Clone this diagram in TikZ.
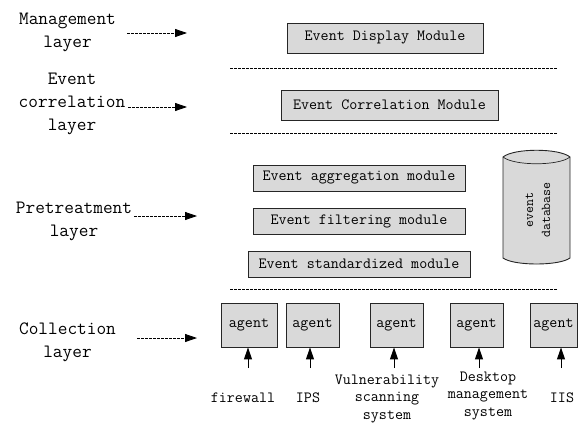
\documentclass[tikz,border=0pt]{standalone}
\usepackage{fontspec}
\usetikzlibrary{arrows.meta}
\definecolor{boxgray}{HTML}{D9D9D9}
\tikzset{
  layerlbl/.style={font=\ttfamily\fontsize{18.8}{23}\selectfont, align=center, inner sep=0pt},
  modbox/.style={draw=black!85, line width=0.9pt, fill=boxgray, inner sep=0pt,
                 font=\ttfamily\fontsize{15.6}{18}\selectfont},
  agentbox/.style={modbox, minimum height=44pt},
  srclbl/.style={font=\ttfamily\fontsize{15.6}{17.5}\selectfont, align=center, inner sep=0pt},
  sep/.style={line width=0.6pt, dash pattern=on 2.5pt off 1.5pt},
  dasharrow/.style={line width=0.8pt, dash pattern=on 2.5pt off 1.5pt,
                    -{Triangle[length=12pt,width=8pt]}},
  uparrow/.style={line width=1pt, -{Triangle[length=12pt,width=8pt]}}
}
\begin{document}
\begin{tikzpicture}[x=1pt,y=-1pt]
\useasboundingbox (0,0) rectangle (580,423);

% layer labels
\node[layerlbl] (lmgmt) at (67.5,32) {Management\\layer};
\node[layerlbl] (lcorr) at (72,104) {Event\\correlation\\layer};
\node[layerlbl] (lpret) at (74,221) {Pretreatment\\layer};
\node[layerlbl] (lcoll) at (67.5,342.5) {Collection\\layer};

% arrow endpoints
\coordinate (m1) at (127,33);  \coordinate (m2) at (187,33);
\coordinate (c1) at (128,107); \coordinate (c2) at (187,107);
\coordinate (p1) at (134,216); \coordinate (p2) at (197,216);
\coordinate (k1) at (137,338); \coordinate (k2) at (197,338);
\draw[dasharrow] (m1) -- (m2);
\draw[dasharrow] (c1) -- (c2);
\draw[dasharrow] (p1) -- (p2);
\draw[dasharrow] (k1) -- (k2);

% separators
\coordinate (s1a) at (230,68);  \coordinate (s1b) at (558,68);
\coordinate (s2a) at (230,133); \coordinate (s2b) at (558,133);
\coordinate (s3a) at (230,289); \coordinate (s3b) at (558,289);
\draw[sep] (s1a) -- (s1b);
\draw[sep] (s2a) -- (s2b);
\draw[sep] (s3a) -- (s3b);

% modules
\node[modbox, minimum width=196pt, minimum height=30pt] (disp) at (385,38) {Event Display Module};
\node[modbox, minimum width=217pt, minimum height=30pt] (corr) at (389.5,105) {Event Correlation Module};
\node[modbox, minimum width=212pt, minimum height=26pt] (aggr) at (359,178) {Event aggregation module};
\node[modbox, minimum width=212pt, minimum height=26pt] (filt) at (359,221) {Event filtering module};
\node[modbox, minimum width=222pt, minimum height=26pt] (std) at (359,264) {Event standardized module};

% database
\fill[boxgray] (503,157) .. controls (514,148) and (559,148) .. (570,157)
  -- (570,258) .. controls (559,266) and (514,266) .. (503,258) -- cycle;
\draw[black!85, line width=0.9pt] (503,157) .. controls (514,148) and (559,148) .. (570,157)
  -- (570,258) .. controls (559,266) and (514,266) .. (503,258) -- cycle;
\draw[black!85, line width=0.7pt] (503,157) .. controls (514,166) and (559,166) .. (570,157);
\node[rotate=90, font=\ttfamily\fontsize{13.5}{17}\selectfont, align=center, inner sep=0pt] (db) at (538,210) {event\\database};

% agents
\node[agentbox, minimum width=56pt] (a1) at (249,325) {agent};
\node[agentbox, minimum width=53pt] (a2) at (312.5,325) {agent};
\node[agentbox, minimum width=53pt] (a3) at (396.5,325) {agent};
\node[agentbox, minimum width=53pt] (a4) at (476.5,325) {agent};
\node[agentbox, minimum width=47pt] (a5) at (553.5,325) {agent};

% sources
\node[srclbl] (fw) at (243,398) {firewall};
\node[srclbl] (ips) at (308,398) {IPS};
\node[srclbl] (vul) at (387,399) {Vulnerability\\scanning\\system};
\node[srclbl] (dsk) at (488,396) {Desktop\\management\\system};
\node[srclbl] (iis) at (562,398) {IIS};

\coordinate (u1) at (248,368);
\coordinate (u2) at (310,368);
\coordinate (u3) at (394,368);
\coordinate (u4) at (479,368);
\coordinate (u5) at (561,368);
\draw[uparrow] (u1) -- (u1 |- a1.south);
\draw[uparrow] (u2) -- (u2 |- a2.south);
\draw[uparrow] (u3) -- (u3 |- a3.south);
\draw[uparrow] (u4) -- (u4 |- a4.south);
\draw[uparrow] (u5) -- (u5 |- a5.south);
\end{tikzpicture}
\end{document}
